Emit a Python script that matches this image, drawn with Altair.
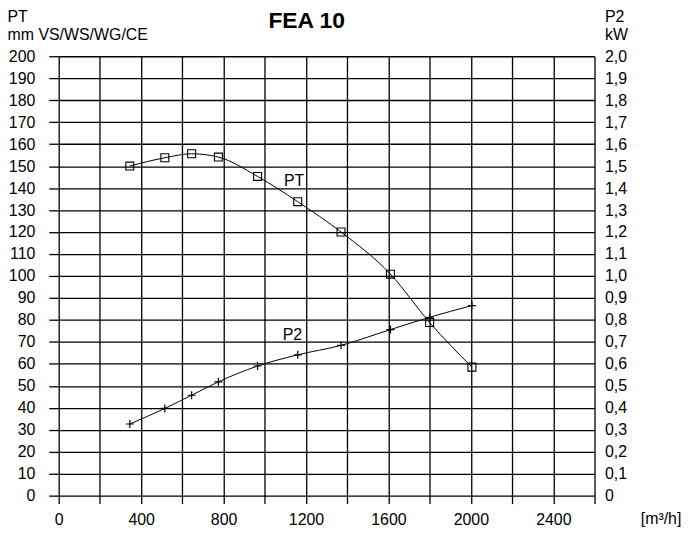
import altair as alt
import pandas as pd

# ---- data ----
flow = [345, 515, 645, 775, 965, 1160, 1370, 1610, 1800, 2005]
pt = [150, 153.8, 155.6, 154.1, 145.3, 133.8, 120, 100.8, 78.8, 58.5]
p2 = [0.326, 0.397, 0.457, 0.518, 0.59, 0.641, 0.684, 0.756, 0.812, 0.865]

x_ticks = list(range(0, 2601, 200))
pt_ticks = list(range(0, 201, 10))
p2_ticks = [round(i * 0.1, 1) for i in range(21)]

pt_label = pd.DataFrame({"flow": [1142], "val": [143.4], "name": ["PT"]})
p2_label = pd.DataFrame({"flow": [1134], "val": [0.733], "name": ["P2"]})

FONT = "Liberation Sans"

df_pt = pd.DataFrame({"flow": flow, "val": pt})
df_p2 = pd.DataFrame({"flow": flow, "val": p2})

x_enc = alt.X(
    "flow:Q",
    scale=alt.Scale(domain=[0, 2600], nice=False, zero=False),
    axis=alt.Axis(
        values=x_ticks,
        format="d",
        labelExpr="datum.value % 400 == 0 && datum.value < 2600 ? datum.label : ''",
        grid=True, gridColor="black", gridWidth=1.3,
        tickSize=8, tickColor="black", tickWidth=1.3,
        labelPadding=8, labelFontSize=16, labelFont=FONT, labelColor="black",
        labelFlush=False, labelOverlap=False,
        domain=False,
        title="[m³/h]", titleX=585, titleY=23, titleAlign="left",
        titleBaseline="middle", titleFontSize=16, titleFontWeight="normal",
        titleFont=FONT, titleColor="black",
    ),
)

y_pt = alt.Y(
    "val:Q",
    scale=alt.Scale(domain=[0, 200], nice=False),
    axis=alt.Axis(
        values=pt_ticks, format="d",
        grid=True, gridColor="black", gridWidth=1.3,
        tickSize=10, tickColor="black", tickWidth=1.3,
        labelPadding=14, labelFontSize=16, labelFont=FONT, labelColor="black",
        labelOverlap=False, labelFlush=False,
        domain=False,
        title=["PT", "mm VS/WS/WG/CE"], titleAngle=0, titleAlign="left",
        titleBaseline="top", titleX=-52, titleY=-48, titleLineHeight=18,
        titleFontSize=16, titleFontWeight="normal", titleFont=FONT, titleColor="black",
    ),
)

y_p2 = alt.Y(
    "val:Q",
    scale=alt.Scale(domain=[0, 2], nice=False),
    axis=alt.Axis(
        orient="right", values=p2_ticks,
        labelExpr="datum.value == 0 ? '0' : replace(format(datum.value, '.1f'), '.', ',')",
        grid=False, ticks=False, tickSize=0,
        labelPadding=10, labelFontSize=16, labelFont=FONT, labelColor="black",
        labelOverlap=False, labelFlush=False,
        domain=False,
        title=["P2", "kW"], titleAngle=0, titleAlign="left",
        titleBaseline="top", titleX=10, titleY=-48, titleLineHeight=18,
        titleFontSize=16, titleFontWeight="normal", titleFont=FONT, titleColor="black",
    ),
)

pt_line = alt.Chart(df_pt).mark_line(color="black", strokeWidth=1, interpolate="monotone").encode(
    x=x_enc, y=y_pt)
pt_pts = alt.Chart(df_pt).mark_point(shape="square", size=64, filled=False, color="black",
                                     strokeWidth=1.1, opacity=1).encode(x=x_enc, y=y_pt)
pt_txt = alt.Chart(pt_label).mark_text(font=FONT, fontSize=16, color="black").encode(
    x=x_enc, y=y_pt, text="name:N")

p2_line = alt.Chart(df_p2).mark_line(color="black", strokeWidth=1, interpolate="monotone").encode(
    x=x_enc, y=y_p2)
p2_pts = alt.Chart(df_p2).mark_point(shape="M-1,0L1,0M0,-1L0,1", size=64, filled=False,
                                     color="black", strokeWidth=1.2, opacity=1).encode(x=x_enc, y=y_p2)
p2_txt = alt.Chart(p2_label).mark_text(font=FONT, fontSize=16, color="black").encode(
    x=x_enc, y=y_p2, text="name:N")

left = alt.layer(pt_line, pt_pts, pt_txt)
right = alt.layer(p2_line, p2_pts, p2_txt)

chart = (
    alt.layer(left, right)
    .resolve_scale(y="independent")
    .properties(
        width=539, height=442,
        title=alt.TitleParams("FEA 10", font=FONT, fontSize=23, fontWeight="bold",
                              color="black", anchor="middle", dx=-20,
                              baseline="alphabetic", offset=-43),
        autosize=alt.AutoSizeParams(type="none"),
        padding={"left": 51, "top": 47, "right": 88, "bottom": 30},
        background="white",
    )
    .configure_view(stroke=None)
)

chart.save("out.html", embed_options={"renderer": "svg", "actions": False})
